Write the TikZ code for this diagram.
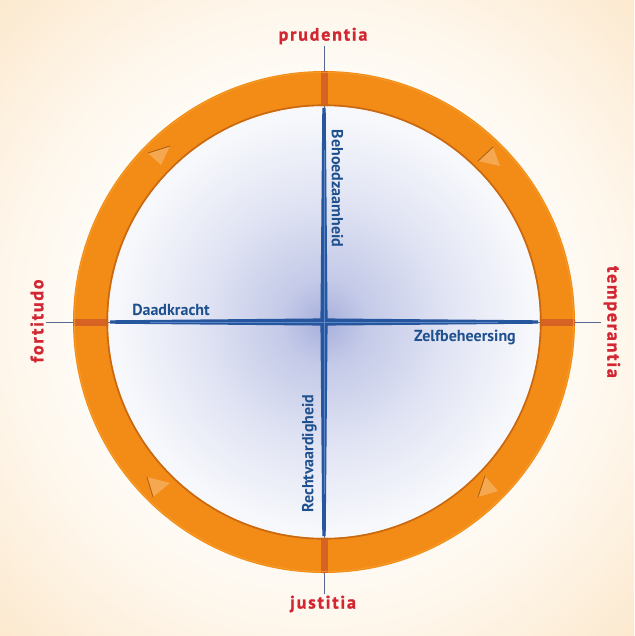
\documentclass[tikz,border=0pt]{standalone}
\usepackage{fontspec}
\setmainfont{PT Sans}
\newfontfamily\redfont[LetterSpace=10,BoldFeatures={FakeBold=1.2}]{PT Sans}
\newfontfamily\bluefont{PT Sans}
\definecolor{peachA}{RGB}{254,246,234}
\definecolor{peachB}{RGB}{252,232,205}
\definecolor{diskC}{RGB}{168,176,220}
\definecolor{diskM}{RGB}{196,202,232}
\definecolor{diskN}{RGB}{224,227,243}
\definecolor{diskE}{RGB}{247,248,252}
\definecolor{ringO}{RGB}{242,140,22}
\definecolor{ringD}{RGB}{200,104,18}
\definecolor{ringL}{RGB}{247,160,48}
\definecolor{bandO}{RGB}{214,98,36}
\definecolor{triF}{RGB}{246,168,80}
\definecolor{triE}{RGB}{176,96,20}
\definecolor{redT}{RGB}{210,38,50}
\definecolor{blueT}{RGB}{30,80,142}
\definecolor{spokeB}{RGB}{38,86,158}
\definecolor{spokeL}{RGB}{92,134,198}
\definecolor{thinB}{RGB}{86,104,140}
\pgfdeclareradialshading{bgshade}{\pgfpoint{0bp}{0bp}}{color(0bp)=(white); color(14bp)=(white); color(25bp)=(peachA); color(36bp)=(peachB); color(50bp)=(peachB)}
\pgfdeclareradialshading{diskshade}{\pgfpoint{0bp}{0bp}}{color(0bp)=(diskC); color(5bp)=(diskM); color(14bp)=(diskN); color(24bp)=(diskE); color(50bp)=(diskE)}
\tikzset{
  redlab/.style={font=\redfont\bfseries\fontsize{18}{18}\selectfont, text=redT, inner sep=0pt},
  bluelab/.style={font=\bluefont\bfseries\fontsize{16}{16}\selectfont, text=blueT, inner sep=0pt},
  thinline/.style={draw=thinB, line width=0.8pt},
  spoke/.style={fill=spokeB},
  spokehl/.style={draw=spokeL, line width=1pt},
  band/.style={fill=bandO},
  tri/.style={fill=triF},
  triedge/.style={draw=triE, line width=0.9pt, line cap=round}
}
\begin{document}
\begin{tikzpicture}[x=1pt,y=-1pt]
\useasboundingbox (0,0) rectangle (634,636);
\shade[shading=bgshade] (0,0) rectangle (634,636);
% coordinates
\coordinate (c) at (324,322);
\coordinate (tN) at (324,46);
\coordinate (tS) at (324,594);
\coordinate (tW) at (46,322);
\coordinate (tE) at (601,322);
% disk
\shade[shading=diskshade] (c) circle (216pt);
% thin outer lines
\draw[thinline] (tN) -- (c);
\draw[thinline] (tS) -- (c);
\draw[thinline] (tW) -- (c);
\draw[thinline] (tE) -- (c);
% tapered spokes
\fill[spoke] (322.3,108) -- (325.7,108) -- (327.6,322) -- (320.4,322) -- cycle;
\fill[spoke] (322.3,536) -- (325.7,536) -- (327.6,322) -- (320.4,322) -- cycle;
\fill[spoke] (110,320.3) -- (110,323.7) -- (324,325.6) -- (324,318.4) -- cycle;
\fill[spoke] (538,320.3) -- (538,323.7) -- (324,325.6) -- (324,318.4) -- cycle;
\draw[spokehl] (324,150) -- (324,494);
\draw[spokehl] (150,322) -- (498,322);
% ring
\fill[ringO, even odd rule] (c) circle (251pt) (c) circle (216pt);
\begin{scope}[even odd rule]
  \clip (c) circle (251pt) (c) circle (216pt);
  \fill[band] (320.5,60) rectangle (327.5,120);
  \fill[band] (320.5,524) rectangle (327.5,584);
  \fill[band] (60,318.5) rectangle (120,325.5);
  \fill[band] (528,318.5) rectangle (588,325.5);
\end{scope}
\draw[ringD, line width=1.6pt] (c) circle (216.8pt);
\draw[ringL, line width=1pt, opacity=0.7] (c) circle (249.5pt);
% triangles
\fill[tri] (148,153) -- (170,146) -- (161,165) -- cycle;
\draw[triedge] (148,153) -- (170,146);
\fill[tri] (478,161) -- (493,147) -- (500,166) -- cycle;
\draw[triedge] (478,161) -- (493,147);
\fill[tri] (478,497) -- (485,476) -- (498,491) -- cycle;
\draw[triedge] (478,497) -- (485,476);
\fill[tri] (147,477) -- (170,483) -- (153,497) -- cycle;
\draw[triedge] (147,477) -- (153,497);
% red labels
\node[redlab] (prud) at (323,36) {prudentia};
\node[redlab] (just) at (323,604) {justitia};
\node[redlab, rotate=90] (fort) at (37,321) {fortitudo};
\node[redlab, rotate=-90] (temp) at (612,322) {temperantia};
% blue labels
\node[bluelab, rotate=-90] (beh) at (337.5,188.5) {Behoedzaamheid};
\node[bluelab, rotate=90] (recht) at (309.5,453.5) {Rechtvaardigheid};
\node[bluelab] (daad) at (171,309.5) {Daadkracht};
\node[bluelab] (zelf) at (465,337.5) {Zelfbeheersing};
\end{tikzpicture}
\end{document}
